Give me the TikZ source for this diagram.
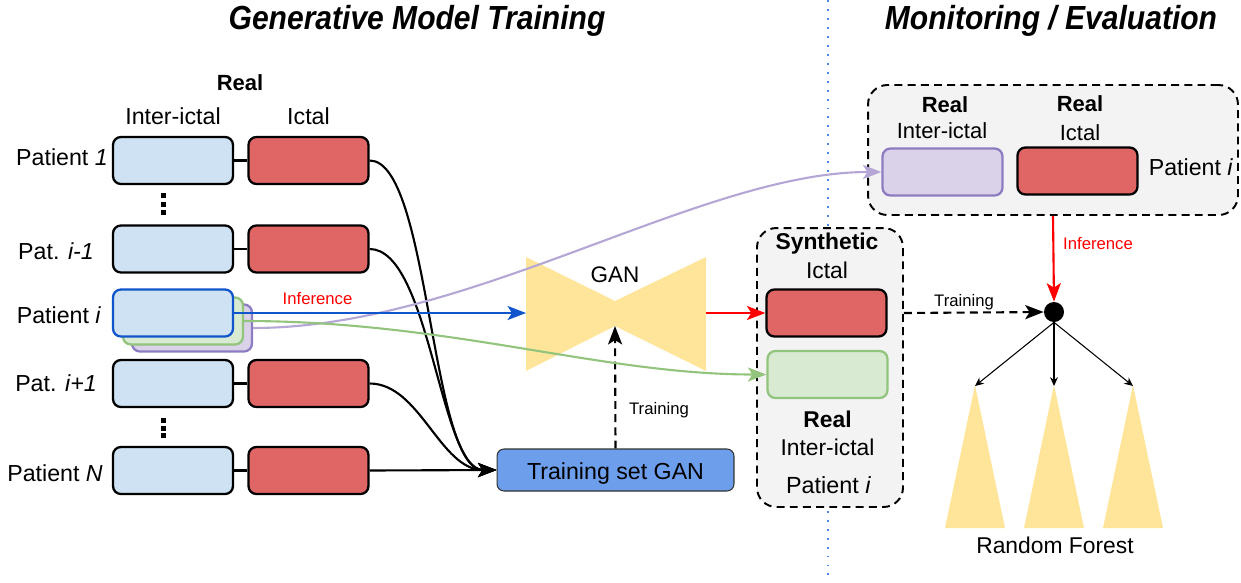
\documentclass[tikz,border=0pt]{standalone}
\usepackage{fontspec}
\setmainfont{Liberation Sans}
\usetikzlibrary{arrows.meta,calc}
\definecolor{ltblue}{HTML}{CFE2F3}
\definecolor{ictred}{HTML}{E06666}
\definecolor{ptblue}{HTML}{1155CC}
\definecolor{ltgreen}{HTML}{D9EAD3}
\definecolor{dkgreen}{HTML}{93C47D}
\definecolor{ltpurple}{HTML}{D9D2E9}
\definecolor{dkpurple}{HTML}{8E7CC3}
\definecolor{curvepurple}{HTML}{B4A7D6}
\definecolor{ganyellow}{HTML}{FFE599}
\definecolor{setblue}{HTML}{6D9EEB}
\definecolor{panelgrey}{HTML}{F3F3F3}
\definecolor{sepblue}{HTML}{4A86E8}
\definecolor{infred}{HTML}{FF0000}

\begin{document}
\begin{tikzpicture}[x=0.02cm,y=-0.02cm,
  seg/.style={line width=1.3pt, rounded corners=4.5pt, minimum width=2.4cm,
    minimum height=0.94cm, inner sep=0pt},
  ibox/.style={seg, draw=black, fill=ltblue},
  rbox/.style={seg, draw=black, fill=ictred},
  gbox/.style={seg, draw=dkgreen, fill=ltgreen},
  pbox/.style={seg, draw=dkpurple, fill=ltpurple},
  lbl/.style={font=\fontsize{13.2}{15}\selectfont, inner sep=0pt, anchor=base},
  hdr/.style={font=\fontsize{12.5}{14}\selectfont\bfseries, inner sep=0pt, anchor=base},
  small/.style={font=\fontsize{9.5}{11}\selectfont, inner sep=0pt, anchor=base},
  ttl/.style={font=\fontsize{19}{22}\selectfont\bfseries\itshape, inner sep=0pt, anchor=base},
  panel/.style={draw=black, dash pattern=on 4.5pt off 3pt, line width=1.1pt,
    fill=panelgrey, rounded corners=11pt, inner sep=0pt},
  flow/.style={line width=1.2pt, -{Stealth[length=10.5pt,width=8pt,inset=2.5pt]}},
  thin/.style={line width=0.6pt, -{Stealth[length=5pt,width=4.5pt]}}
]
\useasboundingbox (0,0) rectangle (1241,582);

% section separator
\draw[sepblue, line width=1.1pt, dash pattern=on 1.1pt off 4pt] (828,0) -- (828,582);

% section titles
\node[ttl] (t1) at (417,29) {\scalebox{0.9}[1]{Generative Model Training}};
\node[ttl] (t2) at (1051,29) {\scalebox{0.9}[1]{Monitoring / Evaluation}};

% column headings
\node[hdr] (hreal) at (240,90) {Real};
\node[lbl] (hinter) at (173,124) {Inter-ictal};
\node[lbl] (hict) at (308.5,124) {Ictal};

% patient rows
\node[ibox] (a1) at (173,160.5) {};
\node[rbox] (b1) at (308.5,160.5) {};
\node[ibox] (a2) at (173,249) {};
\node[rbox] (b2) at (308.5,249) {};
\node[ibox] (a4) at (173,383.5) {};
\node[rbox] (b4) at (308.5,383.5) {};
\node[ibox] (a5) at (173,470.5) {};
\node[rbox] (b5) at (308.5,470.5) {};
\foreach \r in {1,2,4,5} \draw[line width=1.3pt] (a\r.east) -- (b\r.west);

% held-out patient: stacked segments
\node[pbox] (pp) at (192,328) {};
\node[gbox] (pg) at (183,321) {};
\node[seg, draw=ptblue, fill=ltblue] (pb) at (173,313) {};

\node[lbl] (l1) at (62,165) {Patient \textit{1}};
\node[lbl] (l2) at (56,259) {Pat. \textit{i-1}};
\node[lbl] (l3) at (59,323) {Patient \textit{i}};
\node[lbl] (l4) at (56,391) {Pat. \textit{i+1}};
\node[lbl] (l5) at (55,481) {Patient \textit{N}};

% vertical ellipses between rows
\foreach \y in {195.5,204,212} \fill (161,\y-2.5) rectangle ++(5,5);
\foreach \y in {420.5,428,435.5} \fill (160.5,\y-2.5) rectangle ++(5,5);

% training set box
\node[draw=black!80, line width=0.6pt, fill=setblue, rounded corners=4pt,
  minimum width=4.74cm, minimum height=0.84cm, inner sep=0pt] (tset) at (615.5,470) {};
\node[font=\fontsize{13.2}{16}\selectfont, inner sep=0pt, anchor=base] (tsettxt) at (615.5,479) {Training set GAN};

% GAN bowtie
\coordinate (ganL) at (526,313);
\coordinate (ganR) at (706,313);
\coordinate (ganW) at (615,326);
\fill[ganyellow] (526,257) -- (615,301) -- (706,257) -- (706,371) -- (615,326) -- (526,371) -- cycle;
\node[font=\fontsize{12.8}{15}\selectfont, inner sep=0pt, anchor=base] (gan) at (615,282) {GAN};

% synthetic / real panel for patient i
\node[panel, minimum width=2.92cm, minimum height=5.58cm] (syn) at (830,367.5) {};
\node[font=\fontsize{13}{15}\selectfont\bfseries, inner sep=0pt, anchor=base] (synt) at (827,249) {Synthetic};
\node[font=\fontsize{13}{15}\selectfont, inner sep=0pt, anchor=base] (synict) at (827,278) {Ictal};
\node[rbox] (sred) at (826.5,313) {};
\node[gbox] (sgreen) at (827.5,374.5) {};
\node[hdr, font=\fontsize{13}{15}\selectfont\bfseries] (sreal) at (827.5,427) {Real};
\node[font=\fontsize{13}{15}\selectfont, inner sep=0pt, anchor=base] (sinter) at (827.5,455) {Inter-ictal};
\node[font=\fontsize{13.3}{15}\selectfont, inner sep=0pt, anchor=base] (spat) at (828.5,493) {Patient \textit{i}};

% real evaluation panel for patient i
\node[panel, minimum width=7.4cm, minimum height=2.6cm] (tr) at (1053,150) {};
\node[hdr] (trr1) at (945,112) {Real};
\node[lbl, font=\fontsize{12.5}{15}\selectfont] (tri) at (942,138) {Inter-ictal};
\node[hdr] (trr2) at (1080,111) {Real};
\node[lbl, font=\fontsize{12.5}{15}\selectfont] (trc) at (1080,140) {Ictal};
\node[pbox] (tpur) at (942.5,172) {};
\node[rbox] (tred) at (1077.5,171) {};
\node[lbl] (trp) at (1191,175) {Patient \textit{i}};

% random forest
\node[circle, fill=black, minimum size=0.4cm, inner sep=0pt] (dot) at (1054,312) {};
\coordinate (tp1) at (975,386);
\coordinate (tp2) at (1054,386);
\coordinate (tp3) at (1133,386);
\fill[ganyellow] (975,385) -- (1005,528) -- (945,528) -- cycle;
\fill[ganyellow] (1054,385) -- (1084,528) -- (1024,528) -- cycle;
\fill[ganyellow] (1133,385) -- (1163,528) -- (1103,528) -- cycle;
\foreach \t in {tp1,tp2,tp3} \draw[thin] (dot.south) -- (\t);
\node[font=\fontsize{13}{15}\selectfont, inner sep=0pt, anchor=base] (rf) at (1055,553) {Random Forest};

% training data into the GAN training set
\draw[flow] (b1.east) .. controls (430,160.5) and (430,470) .. (tset.west);
\draw[flow] (b2.east) .. controls (430,249) and (440,470) .. (tset.west);
\draw[flow] (b4.east) .. controls (420,383.5) and (440,470) .. (tset.west);
\draw[flow] (b5.east) -- (tset.west);
\draw[flow, dash pattern=on 4.5pt off 3pt] (tset.north) -- (ganW);
\node[small] (trn1) at (659,414) {Training};

% inference paths
\draw[flow, curvepurple] (pp.east) .. controls (470,328) and (700,172) .. (tpur.west);
\draw[flow, dkgreen] (pg.east) .. controls (450,321) and (600,374.5) .. (sgreen.west);
\draw[flow, ptblue] (pb.east) -- (ganL);
\node[small, text=infred] (inf1) at (317.5,304) {Inference};
\draw[flow, infred] (ganR) -- (sred.west);

% classifier training and inference
\draw[flow, dash pattern=on 4.5pt off 3pt] (syn.east |- sred.east) -- (dot.west);
\node[small] (trn2) at (964,306) {Training};
\draw[flow, infred] (tr.south) -- (dot.north);
\node[small, text=infred] (inf2) at (1098,249) {Inference};
\end{tikzpicture}
\end{document}
